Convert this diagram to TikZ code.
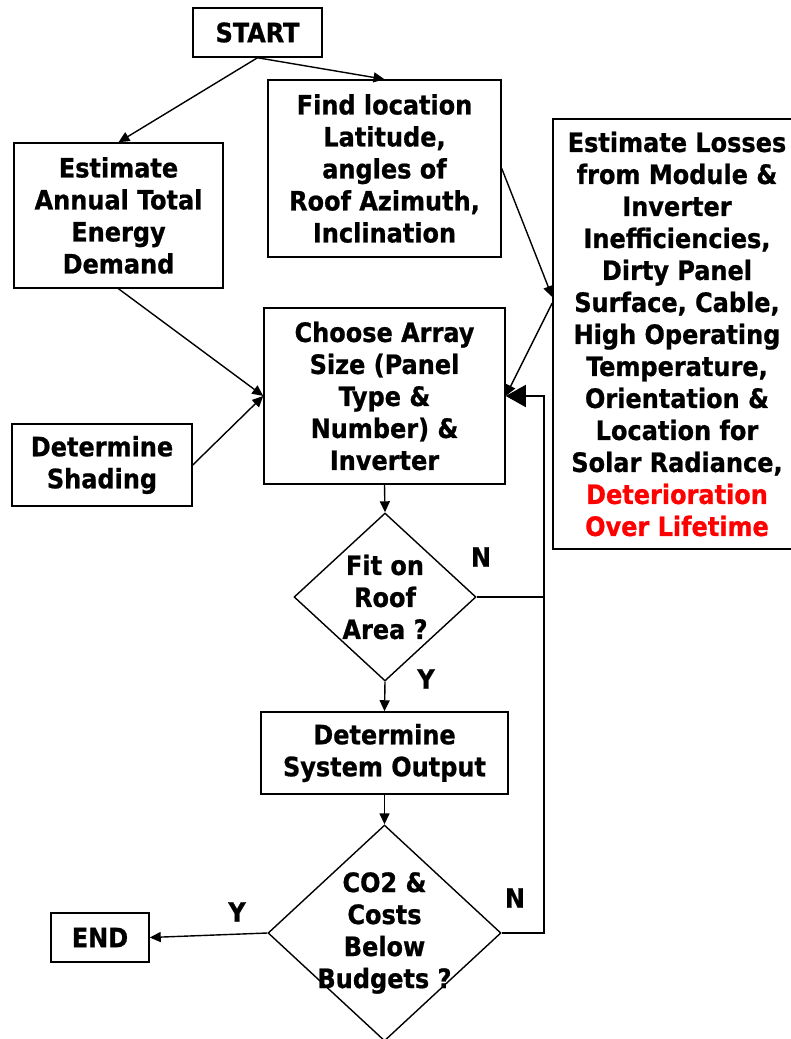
\documentclass[tikz,border=0pt]{standalone}
\usepackage{fontspec}
\setmainfont{DejaVu Sans Condensed}[BoldFeatures={FakeBold=0.8}]
\usetikzlibrary{arrows.meta,shapes.geometric,calc}
\definecolor{ink}{RGB}{0,0,0}
\definecolor{alert}{RGB}{255,0,0}
\newcommand{\chartfont}{\fontsize{26.67}{32}\selectfont\bfseries}
\tikzset{
  >={Triangle[length=11pt,width=10pt]},
  box/.style={draw=ink,line width=1.5pt,align=center,inner sep=0pt,font=\chartfont},
  choice/.style={diamond,draw=ink,line width=1.4pt,align=center,inner sep=-14pt,font=\chartfont},
  flow/.style={->,line width=1.4pt,draw=ink},
  loopflow/.style={-{Triangle[length=20pt,width=22pt]},line width=1.4pt,draw=ink},
  yn/.style={font=\chartfont,inner sep=0pt},
}
\begin{document}
\begin{tikzpicture}[x=1pt,y=-1pt]
  \useasboundingbox (0,0) rectangle (791,1039);
  % boxes
  \node[box,minimum width=129,minimum height=49] (start) at (257.5,32.5) {START};
  \node[box,minimum width=233,minimum height=177] (find) at (384.5,168.5) {Find location\\Latitude,\\angles of\\Roof Azimuth,\\Inclination};
  \node[box,minimum width=209,minimum height=145] (annual) at (118.5,215.5) {Estimate\\Annual Total\\Energy\\Demand};
  \node[box,minimum width=248,minimum height=430] (losses) at (677,334) {Estimate Losses\\from Module \&\\Inverter\\Inefficiencies,\\Dirty Panel\\Surface, Cable,\\High Operating\\Temperature,\\Orientation \&\\Location for\\Solar Radiance,\\\textcolor{alert}{Deterioration}\\\textcolor{alert}{Over Lifetime}};
  \node[box,minimum width=241,minimum height=176] (choose) at (384.5,396) {Choose Array\\Size (Panel\\Type \&\\Number) \&\\Inverter};
  \node[box,minimum width=180,minimum height=82] (shading) at (102,465) {Determine\\Shading};
  \node[choice,minimum width=182,minimum height=168] (fit) at (385,597) {Fit on\\Roof\\Area ?};
  \node[box,minimum width=247,minimum height=82] (output) at (384.5,753) {Determine\\System Output};
  \node[choice,minimum width=233,minimum height=216] (budget) at (384.5,933) {CO2 \&\\Costs\\Below\\Budgets ?};
  \node[box,minimum width=98,minimum height=49] (end) at (100,937.5) {END};
  \coordinate (loop) at (544,396);
  % labels
  \node[yn] (fitN) at (481,557) {N};
  \node[yn] (fitY) at (426,679) {Y};
  \node[yn] (budN) at (515,898) {N};
  \node[yn] (budY) at (237,912) {Y};
  % connectors
  \draw[flow] (start.south) -- (annual.north);
  \draw[flow] (start.south) -- (find.north);
  \draw[flow] (find.east) -- ([yshift=37pt]losses.west);
  \draw[flow] ([yshift=31pt]losses.west) -- (choose.east);
  \draw[flow] (annual.south) -- (choose.west);
  \draw[flow] (shading.east) -- (choose.west);
  \draw[flow] (choose.south) -- (fit.north);
  \draw[flow] (fit.south) -- (output.north);
  \draw[flow] (output.south) -- (budget.north);
  \draw[flow] (budget.west) -- (end.east);
  \draw[line width=1.4pt,draw=ink] (fit.east) -- (fit.east -| loop);
  \draw[loopflow] (budget.east) -| (loop) -- (choose.east);
\end{tikzpicture}
\end{document}
